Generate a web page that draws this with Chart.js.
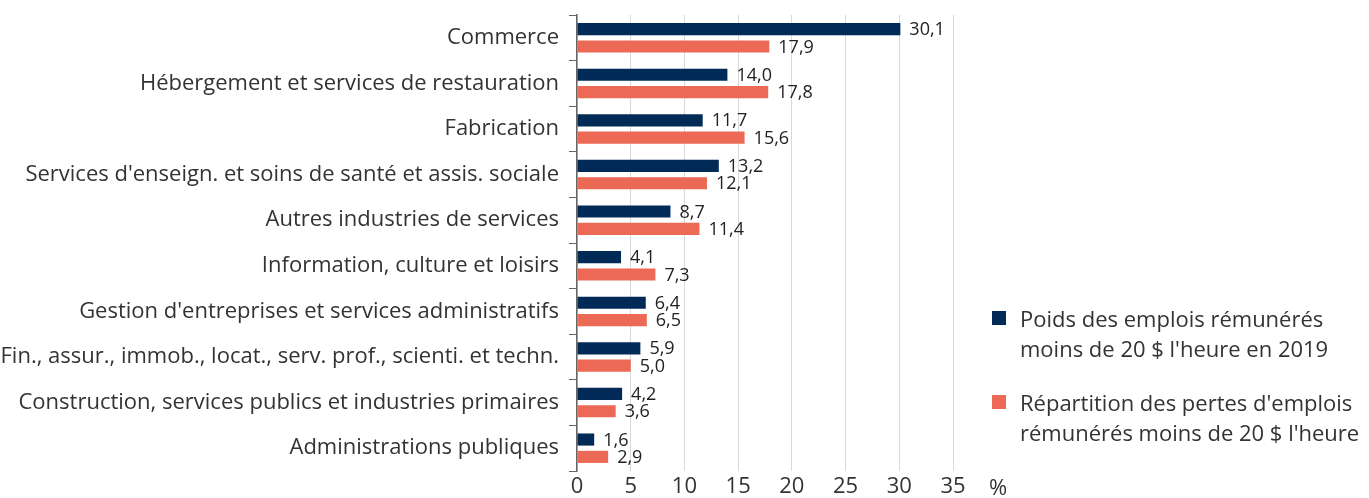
<!DOCTYPE html>
<html>
<head>
<meta charset="utf-8">
<script src="https://cdn.jsdelivr.net/npm/chart.js@4/dist/chart.umd.min.js"></script>
<style>
  body { margin: 0; background: #fff; font-family: "Open Sans", sans-serif; }
  #wrap { position: relative; width: 1369px; height: 498px; }
  .legend { position: absolute; left: 992px; color: #333; font-size: 22px; line-height: 30px; }
  .legend .sw { position: absolute; left: 0; top: 8px; width: 14px; height: 14px; }
  .legend .tx { margin-left: 28px; white-space: nowrap; }
</style>
</head>
<body>
<div id="wrap">
  <canvas id="chart" width="1369" height="498"></canvas>
  <div class="legend" style="top:303px"><div class="sw" style="background:#022a57"></div><div class="tx">Poids des emplois rémunérés<br>moins de 20 $ l'heure en 2019</div></div>
  <div class="legend" style="top:387px"><div class="sw" style="background:#ec6955"></div><div class="tx">Répartition des pertes d'emplois<br>rémunérés moins de 20 $ l'heure</div></div>
</div>
<script>
const categories = [
  "Commerce",
  "Hébergement et services de restauration",
  "Fabrication",
  "Services d'enseign. et soins de santé et assis. sociale",
  "Autres industries de services",
  "Information, culture et loisirs",
  "Gestion d'entreprises et services administratifs",
  "Fin., assur., immob., locat., serv. prof., scienti. et techn.",
  "Construction, services publics et industries primaires",
  "Administrations publiques"
];
const poids2019 = [30.1, 14.0, 11.7, 13.2, 8.7, 4.1, 6.4, 5.9, 4.2, 1.6];
const pertes = [17.9, 17.8, 15.6, 12.1, 11.4, 7.3, 6.5, 5.0, 3.6, 2.9];
const xTicks = [0, 5, 10, 15, 20, 25, 30, 35];

const fmt = v => v.toFixed(1).replace(".", ",");

// value labels at the end of each bar + the "%" unit after the x ticks
const barLabels = {
  id: "barLabels",
  afterDatasetsDraw(chart) {
    const ctx = chart.ctx;
    ctx.save();
    ctx.font = '18px "Open Sans"';
    ctx.fillStyle = "#222";
    ctx.textBaseline = "middle";
    ctx.textAlign = "left";
    chart.data.datasets.forEach((ds, i) => {
      chart.getDatasetMeta(i).data.forEach((bar, j) => {
        ctx.fillText(fmt(ds.data[j]), bar.x + 9, bar.y + 1);
      });
    });
    const xs = chart.scales.x;
    ctx.font = '22px "Open Sans"';
    ctx.fillStyle = "#333";
    ctx.textAlign = "center";
    ctx.fillText("%", 998, xs.top + 18);
    ctx.restore();
  }
};

new Chart(document.getElementById("chart"), {
  type: "bar",
  data: {
    labels: categories,
    datasets: [
      { label: "Poids des emplois rémunérés moins de 20 $ l'heure en 2019", data: poids2019, backgroundColor: "#022a57" },
      { label: "Répartition des pertes d'emplois rémunérés moins de 20 $ l'heure", data: pertes, backgroundColor: "#ec6955" }
    ]
  },
  options: {
    indexAxis: "y",
    responsive: false,
    animation: false,
    layout: { padding: { top: 15, right: 416, left: 0, bottom: 0 } },
    datasets: { bar: { categoryPercentage: 0.76, barPercentage: 0.7 } },
    scales: {
      x: {
        min: 0,
        max: 35,
        afterBuildTicks: s => { s.ticks = xTicks.map(v => ({ value: v })); },
        afterFit: s => { s.height = 27; s.paddingLeft = 0; s.paddingRight = 0; },
        grid: { color: "#d9d9d9", drawTicks: false },
        border: { display: false },
        ticks: { padding: 3, color: "#333", font: { family: "Open Sans", size: 22 } }
      },
      y: {
        afterFit: s => { s.width = 577; s.paddingTop = 0; s.paddingBottom = 0; },
        grid: { offset: true, drawOnChartArea: false, drawTicks: true, tickLength: 8, color: "#666" },
        border: { color: "#666", width: 1.5 },
        ticks: { padding: 10, color: "#333", font: { family: "Open Sans", size: 22 } }
      }
    },
    plugins: {
      legend: { display: false },
      tooltip: { enabled: false }
    }
  },
  plugins: [barLabels]
});
</script>
</body>
</html>
